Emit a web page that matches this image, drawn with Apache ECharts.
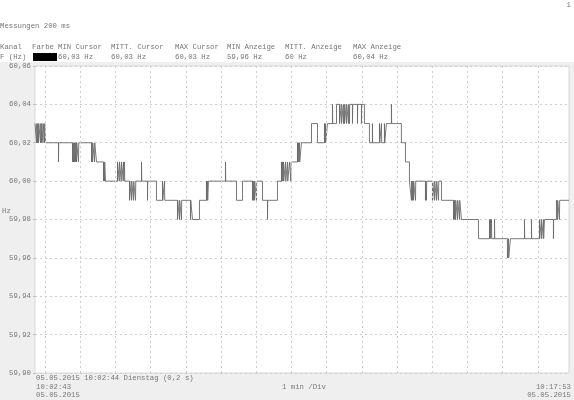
<!DOCTYPE html>
<html><head><meta charset="utf-8">
<script src="https://cdn.jsdelivr.net/npm/echarts@6/dist/echarts.min.js"></script>
<style>html,body{margin:0;padding:0;background:#fff}#c{width:574px;height:400px}</style>
</head><body><div id="c"></div>
<script>
// ---- data (seconds since 10:02:43, frequency in Hz) ----
const timeSec = [
0,2.6,3.0,4.3,4.7,6.0,6.4,9.4,9.8,11.1,11.5,13.6,14.0,16.2,16.6,17.9,
40.0,40.4,63.9,64.3,65.6,66.0,67.3,67.7,69.0,69.4,70.7,71.1,74.1,74.5,
96.3,96.7,98.0,98.4,101.4,101.8,104.8,
116.7,117.1,118.4,118.8,120.1,
140.6,141.0,144.0,144.4,147.4,147.8,150.8,151.2,152.5,152.9,
161.0,161.4,164.4,164.8,167.8,168.2,171.3,171.7,
181.5,181.9,191.7,192.1,207.0,217.3,217.7,220.7,221.1,
242.8,243.2,246.2,246.6,249.6,250.0,265.0,265.4,268.4,
280.3,292.2,292.6,293.9,294.3,295.6,
324.6,325.0,343.4,353.6,370.6,371.0,372.3,372.7,374.0,374.4,377.4,377.8,
387.7,396.2,396.6,413.2,
420.0,420.4,421.7,422.1,423.4,423.8,426.9,427.3,430.3,430.7,433.7,436.0,436.4,
447.3,447.7,449.0,449.4,450.7,451.1,454.1,
471.2,481.4,493.3,493.7,495.0,495.4,498.4,506.9,507.3,
513.8,518.9,519.3,522.3,522.7,525.7,526.1,527.4,527.8,530.8,531.2,534.2,534.6,535.9,536.3,541.0,541.4,549.5,549.9,556.3,556.7,561.4,
569.9,575.0,575.4,587.0,587.4,590.4,590.8,595.5,595.9,598.9,607.4,607.8,
624.4,631.3,638.1,
641.5,641.9,643.2,643.6,644.9,645.3,648.4,648.8,665.4,665.8,667.1,667.5,677.3,677.7,680.7,681.1,684.2,684.6,687.6,688.0,692.7,
713.2,713.6,714.9,715.3,716.6,717.0,720.0,720.4,723.4,723.8,726.8,
755.7,774.5,774.9,776.2,776.6,777.9,778.3,783.0,783.4,
805.1,806.8,807.2,810.2,
834.1,834.5,846.0,846.4,859.6,860.0,863.0,863.4,866.4,866.8,868.2,
883.5,883.9,888.6,890.3,890.7,893.7,894.1,910
];
const freqHz = [
60.03,60.02,60.03,60.02,60.03,60.02,60.03,60.02,60.03,60.02,60.03,60.02,60.03,60.02,60.03,60.02,
60.01,60.02,60.01,60.02,60.01,60.02,60.01,60.02,60.01,60.02,60.01,60.02,60.01,60.02,
60.01,60.02,60.01,60.02,60.01,60.02,60.01,
60.00,60.01,60.00,60.01,60.00,
60.01,60.00,60.01,60.00,60.01,60.00,60.01,60.00,60.01,60.00,
59.99,60.00,59.99,60.00,59.99,60.00,59.99,60.00,
60.01,60.00,59.99,60.00,59.99,60.00,59.99,60.00,59.99,
59.98,59.99,59.98,59.99,59.98,59.99,59.98,59.99,59.98,
59.99,60.00,59.99,60.00,59.99,60.00,
60.01,60.00,59.99,60.00,59.99,60.00,59.99,60.00,59.99,60.00,59.99,60.00,
59.99,59.98,59.99,60.00,
60.01,60.00,60.01,60.00,60.01,60.00,60.01,60.00,60.01,60.00,60.01,60.00,60.01,
60.02,60.01,60.02,60.01,60.02,60.01,60.02,
60.03,60.02,60.03,60.02,60.03,60.02,60.03,60.04,60.03,
60.04,60.03,60.04,60.03,60.04,60.03,60.04,60.03,60.04,60.03,60.04,60.03,60.04,60.03,60.04,60.03,60.04,60.03,60.04,60.03,60.04,60.03,
60.02,60.03,60.02,60.03,60.02,60.03,60.02,60.03,60.02,60.03,60.04,60.03,
60.02,60.01,60.00,
59.99,60.00,59.99,60.00,59.99,60.00,59.99,60.00,59.99,60.00,59.99,60.00,59.99,60.00,59.99,60.00,59.99,60.00,59.99,60.00,59.99,
59.98,59.99,59.98,59.99,59.98,59.99,59.98,59.99,59.98,59.99,59.98,
59.97,59.98,59.97,59.98,59.97,59.98,59.97,59.98,59.97,
59.96,59.97,59.96,59.97,
59.98,59.97,59.98,59.97,59.98,59.97,59.98,59.97,59.98,59.97,59.98,
59.97,59.98,59.99,59.98,59.99,59.98,59.99,59.99
];
const minuteGridSec = [17,77,137,197,257,317,377,437,497,557,617,677,737,797,857];
const yMin = 59.90, yMax = 60.06, yStep = 0.02;
const headerLabels = ['Kanal','Farbe','MIN Cursor','MITT. Cursor','MAX Cursor','MIN Anzeige','MITT. Anzeige','MAX Anzeige'];
const headerValues = ['F (Hz)','','60,03 Hz','60,03 Hz','60,03 Hz','59,96 Hz','60 Hz','60,04 Hz'];
const titleText = 'Messungen 200 ms';
const pageNumber = '1';
const cursorText = '05.05.2015 10:02:44 Dienstag (0,2 s)';
const startTime = ['10:02:43','05.05.2015'];
const endTime = ['10:17:53','05.05.2015'];
const divText = '1 min /Div';
const yName = 'Hz';

// ---- chart ----
const FONT = '7.3px "Liberation Mono", "DejaVu Sans Mono", monospace';
const TC = '#777';
const colX = [0,32,58,111,175,227,285,353];
function txt(x,y,t,align){return {type:'text',x:x,y:y,z:100,style:{text:t,font:FONT,fill:TC,textAlign:align||'left',align:align||'left',textVerticalAlign:'middle',verticalAlign:'middle'}};}
const g = [];
g.push({type:'rect',shape:{x:0,y:62,width:574,height:338},style:{fill:'#efefef'},z:-100,silent:true});
g.push(txt(0,26,titleText));
g.push(txt(571,5,pageNumber,'right'));
headerLabels.forEach((l,i)=>g.push(txt(colX[i],47,l)));
headerValues.forEach((l,i)=>{ if(l) g.push(txt(colX[i],57,l)); });
g.push({type:'rect',shape:{x:33,y:53,width:24,height:8},style:{fill:'#000'},z:100});
g.push(txt(2,211,yName));
g.push(txt(36,378,cursorText));
g.push(txt(36,387,startTime[0]));g.push(txt(36,395,startTime[1]));
g.push(txt(571,387,endTime[0],'right'));g.push(txt(571,395,endTime[1],'right'));
g.push(txt(282,387,divText));

const chart = echarts.init(document.getElementById('c'));
chart.setOption({
  animation:false,
  graphic:g,
  grid:{left:35,right:5,top:66,bottom:27,show:true,backgroundColor:'#fff',borderColor:'#d8d8d8',borderWidth:1},
  xAxis:{type:'value',min:0,max:910,show:true,axisLine:{show:false},axisTick:{show:false},axisLabel:{show:false},splitLine:{show:false}},
  yAxis:{type:'value',min:yMin,max:yMax,interval:yStep,
    axisLine:{show:false},axisTick:{show:true,length:2,lineStyle:{color:'#bbb'}},
    axisLabel:{margin:4,fontFamily:'Liberation Mono',fontSize:7.3,color:TC,formatter:v=>v.toFixed(2).replace('.',',')},
    splitLine:{show:true,lineStyle:{color:'#cfcfcf',type:[2,3],width:1}}},
  series:[{type:'line',step:'end',symbol:'none',
    data:timeSec.map((t,i)=>[t,freqHz[i]]),
    lineStyle:{color:'#6a6a6a',width:0.9},
    markLine:{silent:true,symbol:'none',label:{show:false},
      lineStyle:{color:'#cfcfcf',type:[2,3],width:1},
      data:minuteGridSec.map(s=>({xAxis:s}))}}]
});
</script></body></html>
